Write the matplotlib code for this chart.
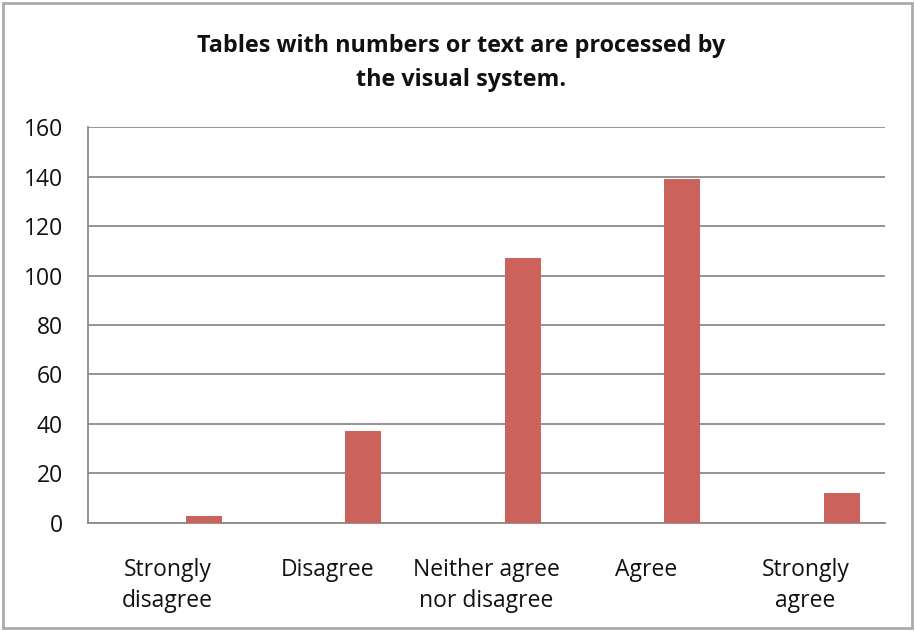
import matplotlib
matplotlib.use("Agg")
import matplotlib.pyplot as plt
from matplotlib.patches import Rectangle

# Survey responses
categories = ["Strongly\ndisagree", "Disagree", "Neither agree\nnor disagree", "Agree", "Strongly\nagree"]
counts = [3, 37, 107, 139, 12]
y_ticks = [0, 20, 40, 60, 80, 100, 120, 140, 160]
title = "Tables with numbers or text are processed by\nthe visual system."

plt.rcParams["font.family"] = ["Open Sans", "DejaVu Sans"]

fig = plt.figure(figsize=(9.15, 6.31), dpi=100)
ax = fig.add_axes([0.0962, 0.1712, 0.871, 0.6275])

x = list(range(len(categories)))
offset = 0.228
bar_w = 0.226
ax.bar([i + offset for i in x], counts, width=bar_w, color="#CB635C", zorder=3)

ax.set_xlim(-0.5, len(categories) - 0.5)
ax.set_ylim(0, 160)
ax.set_yticks(y_ticks)
ax.set_xticks(x)
ax.set_xticklabels(categories, fontsize=16.5, linespacing=1.4, color="#111111")
ax.tick_params(axis="y", labelsize=16.5, labelcolor="#111111", length=0, pad=18)
ax.tick_params(axis="x", length=0, pad=25)

ax.yaxis.grid(True, color="#8a8a8a", linewidth=1.3, zorder=0)
for side in ("top", "right"):
    ax.spines[side].set_visible(False)
ax.spines["left"].set_color("#8a8a8a")
ax.spines["left"].set_linewidth(1.3)
ax.spines["bottom"].set_color("#8a8a8a")
ax.spines["bottom"].set_linewidth(1.3)

fig.text(0.504, 0.900, title, ha="center", va="center", fontsize=16.8,
         fontweight="bold", linespacing=1.55, color="#111111")

# chart area border
fig.patches.append(Rectangle((3 / 915, 3 / 631), 909 / 915, 625 / 631,
                             transform=fig.transFigure, fill=False,
                             edgecolor="#aaaaaa", linewidth=2))

fig.savefig("out.png", dpi=100)
